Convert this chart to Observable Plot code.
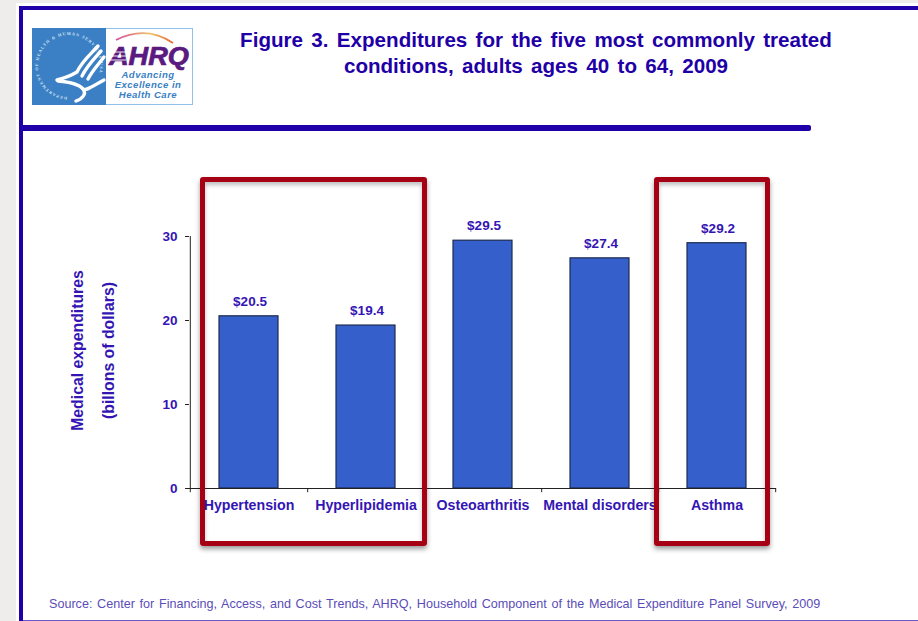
<!DOCTYPE html>
<html>
<head>
<meta charset="utf-8">
<script src="https://cdn.jsdelivr.net/npm/d3@7"></script>
<script src="https://cdn.jsdelivr.net/npm/@observablehq/plot@0.6"></script>
<style>
  html, body { margin: 0; padding: 0; background: #eeedeb; }
  #page { position: absolute; left: 16px; top: 3px; width: 902px; height: 618px; background: #fff; }
  #stage { position: absolute; left: 0; top: 0; width: 918px; height: 621px; overflow: hidden;
           font-family: "Liberation Sans", Arial, sans-serif; }
  #stage svg.chart { position: absolute; left: 0; top: 0; }
  .bar-h { position: absolute; background: #2000a8; }
  #title { position: absolute; left: 186px; width: 700px; top: 27px; text-align: center;
           color: #1f00a6; font-weight: bold; font-size: 20.6px; line-height: 26px; word-spacing: 2.6px; }
  #source { position: absolute; left: 49px; top: 597px; color: #5a4db8; font-size: 12.6px; word-spacing: 1.2px; white-space: nowrap; }
  .callout { position: absolute; box-sizing: border-box; border: 5.5px solid #a50013; border-radius: 3px;
             box-shadow: 0 3px 5px rgba(0,0,0,.4), inset 0 3px 4px rgba(0,0,0,.25); }
  #logo { position: absolute; left: 32px; top: 28px; }
</style>
</head>
<body>
<div id="page"></div>
<div id="stage">
  <div class="bar-h" style="left:19px;top:6px;width:899px;height:4px"></div>
  <div class="bar-h" style="left:19px;top:6px;width:4px;height:615px"></div>
  <div class="bar-h" style="left:23px;top:125px;width:788px;height:6px;border-radius:0 2px 2px 0"></div>
  <div class="bar-h" style="left:23px;top:620px;width:895px;height:1px;background:#6a5acb"></div>

  <svg id="logo" width="161" height="77" viewBox="0 0 161 77">
    <defs>
      <linearGradient id="arcTone" x1="0" x2="1">
        <stop offset="0" stop-color="#d64b9a"/>
        <stop offset="0.6" stop-color="#f0c46a"/>
        <stop offset="1" stop-color="#e8632f"/>
      </linearGradient>
      <path id="sealRing" d="M37 69 A31 31 0 1 1 37.1 69"/>
    </defs>
    <rect x="0.5" y="0.5" width="160" height="76" fill="#fff" stroke="#8fc0ea"/>
    <rect width="74" height="77" fill="#3b7fc4"/>
    <text font-size="4.2" font-weight="bold" fill="#d5e6f6" font-family="Liberation Serif" letter-spacing="1.05">
      <textPath href="#sealRing" startOffset="1%">DEPARTMENT OF HEALTH &amp; HUMAN SERVICES-USA</textPath>
    </text>
    <g fill="none" stroke="#fff" stroke-width="3.4" stroke-linecap="round">
      <path d="M66 18 C58 27 50 33 45 44 C40 47 33 50 25 52"/>
      <path d="M69 23 C61 32 55 38 50 48"/>
      <path d="M72 29 C66 37 60 43 56 51"/>
      <path d="M26 53 C38 54 47 56 51 61 C55 63 62 57 72 52"/>
      <path d="M51 61 C55 66 50 71 44 73"/>
    </g>
    <path d="M84 12 Q114 -3 141 15" fill="none" stroke="url(#arcTone)" stroke-width="1.6"/>
    <text x="77" y="37" font-size="25" font-weight="bold" font-style="italic" fill="#5a1a80" stroke="#5a1a80" stroke-width="0.7"
          textLength="80" lengthAdjust="spacingAndGlyphs">AHRQ</text>
    <g stroke="#fff" stroke-width="0.9">
      <path d="M76 24H96M75 28H95M74 32H94"/>
    </g>
    <g font-size="9.6" font-weight="bold" font-style="italic" fill="#3b7fc4" text-anchor="middle" letter-spacing="0.45">
      <text x="116" y="50">Advancing</text>
      <text x="116" y="60">Excellence in</text>
      <text x="116" y="70">Health Care</text>
    </g>
  </svg>

  <div id="title">Figure 3. Expenditures for the five most commonly treated<br>conditions, adults ages 40 to 64, 2009</div>
  <div id="source">Source: Center for Financing, Access, and Cost Trends, AHRQ, Household Component of the Medical Expenditure Panel Survey, 2009</div>
</div>

<script>
const conditions = ["Hypertension", "Hyperlipidemia", "Osteoarthritis", "Mental disorders", "Asthma"];
const expenditures = [20.5, 19.4, 29.5, 27.4, 29.2];
const yTicks = [0, 10, 20, 30];
const axisTitle = "Medical expenditures\n(billons of dollars)";
const highlighted = [
  {left: 200, top: 177, width: 227, height: 369},
  {left: 654, top: 177, width: 116, height: 369}
];

const rows = conditions.map((name, i) => ({name, value: expenditures[i]}));

const ink = "#3415b4";
const axisInk = "#222";
const step = 587 / conditions.length;

const chart = Plot.plot({
  width: 918,
  height: 621,
  marginLeft: 189,
  marginRight: 142,
  marginTop: 236,
  marginBottom: 133,
  style: {background: "transparent", fontFamily: "'Liberation Sans', Arial, sans-serif", overflow: "visible"},
  x: {domain: conditions, paddingInner: 0.5, paddingOuter: 0.25, label: null},
  y: {domain: [0, 30], label: null},
  marks: [
    Plot.barY(rows, {x: "name", y: "value", fill: "#3560cc", stroke: "#1c2b50", strokeWidth: 1.2}),
    Plot.text(rows, {
      x: "name", y: "value", text: d => `$${d.value.toFixed(1)}`, dy: -15, dx: 1,
      fill: ink, fontWeight: "bold", fontSize: 13.5
    }),
    // Value axis line, baseline and the separators between categories
    Plot.ruleX(conditions.slice(0, 1), {x: d => d, y1: 0, y2: 30, dx: -step / 2, stroke: axisInk}),
    Plot.ruleY([0], {stroke: axisInk}),
    Plot.ruleX(conditions, {x: d => d, y1: 0, y2: -0.5, dx: step / 2, stroke: axisInk}),
    Plot.ruleX(conditions.slice(0, 1), {x: d => d, y1: 0, y2: -0.5, dx: -step / 2, stroke: axisInk}),
    Plot.axisY({
      ticks: yTicks, tickFormat: d => d, label: null, anchor: "left",
      tickSize: 4, tickPadding: 8, stroke: axisInk, fill: ink,
      fontWeight: "bold", fontSize: 13.5
    }),
    Plot.axisX({
      label: null, tickSize: 0, tickPadding: 11, fill: ink,
      fontWeight: "bold", fontSize: 14.2
    }),
    Plot.text([axisTitle], {
      frameAnchor: "left", textAnchor: "middle", rotate: -90, dx: -101, dy: -12,
      text: d => d, fill: ink, fontWeight: "bold", fontSize: 15.8, lineHeight: 1.96
    })
  ]
});
chart.classList.add("chart");

const stage = document.getElementById("stage");
stage.appendChild(chart);

for (const box of highlighted) {
  const el = document.createElement("div");
  el.className = "callout";
  Object.assign(el.style, {
    left: box.left + "px", top: box.top + "px", width: box.width + "px", height: box.height + "px"
  });
  stage.appendChild(el);
}
</script>
</body>
</html>
